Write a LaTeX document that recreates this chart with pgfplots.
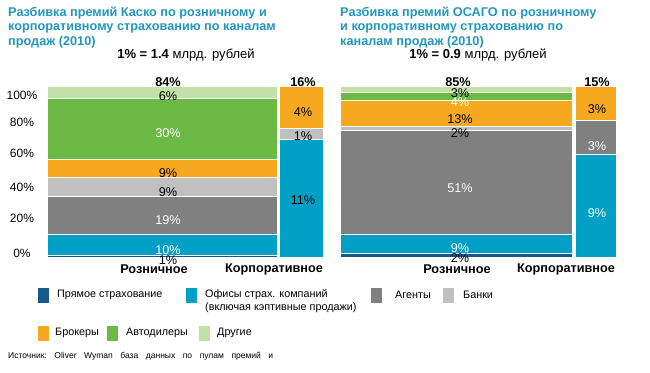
\documentclass[border=0pt]{standalone}
\usepackage{pgfplots}
\pgfplotsset{compat=1.18}
\usepackage{fontspec}
\setmainfont{Liberation Sans}
\definecolor{cDirect}{RGB}{22,90,140}
\definecolor{cOffice}{RGB}{0,160,198}
\definecolor{cAgent}{RGB}{128,128,128}
\definecolor{cBank}{RGB}{192,192,192}
\definecolor{cBroker}{RGB}{246,168,30}
\definecolor{cDealer}{RGB}{109,185,69}
\definecolor{cOther}{RGB}{196,224,170}
\definecolor{cTitle}{RGB}{35,150,190}
\newcommand\fa{\fontsize{12bp}{14bp}\selectfont}
\newcommand\fv{\fontsize{12.7bp}{14bp}\selectfont}
\newcommand\ft{\fontsize{12.7bp}{14.3bp}\selectfont}
\newcommand\fs{\fontsize{13bp}{14.5bp}\selectfont}
\newcommand\fl{\fontsize{10.8bp}{13bp}\selectfont}
\pgfplotsset{mk/.style={scale only axis, width=276bp, height=171bp,
  xmin=0, xmax=100.8, ymin=0, enlargelimits=false, ybar stacked,
  axis line style={draw=none}, major tick length=0pt, xtick=\empty, ytick=\empty,
  anchor=south west, clip=false,
  every axis plot/.append style={draw=white, line width=0.7pt}}}
\begin{document}
\begin{tikzpicture}
\path[use as bounding box] (0,0) rectangle (650bp,373bp);
% ---------- left chart: Kasko, retail
\begin{axis}[mk, at={(47bp,116bp)}, ymax=84,
  ytick={1.96,19.2,34.4,51.1,66.3,79.6},
  yticklabels={0\%,20\%,40\%,60\%,80\%,100\%},
  yticklabel style={font=\fa, anchor=center, xshift=-25bp}]
\addplot[fill=cDirect, bar width=84] coordinates {(42,1)};
\addplot[fill=cOffice, bar width=84] coordinates {(42,10)};
\addplot[fill=cAgent,  bar width=84] coordinates {(42,19)};
\addplot[fill=cBank,   bar width=84] coordinates {(42,9)};
\addplot[fill=cBroker, bar width=84] coordinates {(42,9)};
\addplot[fill=cDealer, bar width=84] coordinates {(42,30)};
\addplot[fill=cOther,  bar width=84] coordinates {(42,6)};
\end{axis}
% ---------- left chart: Kasko, corporate
\begin{axis}[mk, at={(47bp,116bp)}, ymax=16]
\addplot[fill=cOffice, bar width=16] coordinates {(92.8,11)};
\addplot[fill=cBank,   bar width=16] coordinates {(92.8,1)};
\addplot[fill=cBroker, bar width=16] coordinates {(92.8,4)};
\end{axis}
% ---------- right chart: OSAGO, retail
\begin{axis}[mk, at={(340bp,116bp)}, ymax=84]
\addplot[fill=cDirect, bar width=85] coordinates {(42.5,2)};
\addplot[fill=cOffice, bar width=85] coordinates {(42.5,9)};
\addplot[fill=cAgent,  bar width=85] coordinates {(42.5,51)};
\addplot[fill=cBank,   bar width=85] coordinates {(42.5,2)};
\addplot[fill=cBroker, bar width=85] coordinates {(42.5,13)};
\addplot[fill=cDealer, bar width=85] coordinates {(42.5,4)};
\addplot[fill=cOther,  bar width=85] coordinates {(42.5,3)};
\end{axis}
% ---------- right chart: OSAGO, corporate
\begin{axis}[mk, at={(340bp,116bp)}, ymax=15]
\addplot[fill=cOffice, bar width=15] coordinates {(93.3,9)};
\addplot[fill=cAgent,  bar width=15] coordinates {(93.3,3)};
\addplot[fill=cBroker, bar width=15] coordinates {(93.3,3)};
\end{axis}
% ---------- titles
\node[anchor=north west, inner sep=0, align=left, text=cTitle, font=\ft\bfseries] at (8bp,366bp)
 {Разбивка премий Каско по розничному и\\корпоративному страхованию по каналам\\продаж (2010)};
\node[anchor=north west, inner sep=0, align=left, text=cTitle, font=\ft\bfseries] at (340bp,366bp)
 {Разбивка премий ОСАГО по розничному\\и корпоративному страхованию по\\каналам продаж (2010)};
\node[font=\fs, inner sep=0] at (186bp,318bp) {\textbf{1\% = 1.4} млрд. рублей};
\node[font=\fs, inner sep=0] at (478bp,318bp) {\textbf{1\% = 0.9} млрд. рублей};
% ---------- value labels, left
\begin{scope}[every node/.style={font=\fv, inner sep=0}]
\node[font=\fv\bfseries] at (168bp,291bp) {84\%};
\node at (168bp,277bp) {6\%};
\node[text=white] at (168bp,240bp) {30\%};
\node at (168bp,200bp) {9\%};
\node at (168bp,181bp) {9\%};
\node[text=white] at (168bp,153bp) {19\%};
\node[text=white] at (168bp,123bp) {10\%};
\node at (168bp,113bp) {1\%};
\node[font=\fv\bfseries] at (303bp,291bp) {16\%};
\node at (303bp,261bp) {4\%};
\node at (303bp,237bp) {1\%};
\node at (303bp,173bp) {11\%};
% ---------- value labels, right
\node[font=\fv\bfseries] at (458bp,291bp) {85\%};
\node at (460bp,280bp) {3\%};
\node[text=white] at (460bp,271bp) {4\%};
\node at (460bp,254bp) {13\%};
\node at (460bp,240bp) {2\%};
\node[text=white] at (460bp,185bp) {51\%};
\node[text=white] at (460bp,125bp) {9\%};
\node at (460bp,115bp) {2\%};
\node[font=\fv\bfseries] at (597bp,291bp) {15\%};
\node at (597bp,264bp) {3\%};
\node[text=white] at (597bp,227bp) {3\%};
\node[text=white] at (597bp,160bp) {9\%};
% ---------- category labels
\node[font=\fv\bfseries] at (154bp,104bp) {Розничное};
\node[font=\fv\bfseries] at (274bp,104bp) {Корпоративное};
\node[font=\fv\bfseries] at (457bp,104bp) {Розничное};
\node[font=\fv\bfseries] at (566bp,104bp) {Корпоративное};
\end{scope}
% ---------- legend
\begin{scope}[every node/.style={font=\fl, inner sep=0, anchor=west}]
\fill[cDirect] (38bp,70bp) rectangle (49bp,85bp);
\node at (57bp,78bp) {Прямое страхование};
\fill[cOffice] (186bp,70bp) rectangle (197bp,85bp);
\node[align=left, anchor=north west] at (205bp,84bp) {Офисы страх. компаний\\(включая кэптивные продажи)};
\fill[cAgent] (371bp,70bp) rectangle (382bp,85bp);
\node at (395bp,78bp) {Агенты};
\fill[cBank] (443bp,70bp) rectangle (454bp,85bp);
\node at (463bp,78bp) {Банки};
\fill[cBroker] (38bp,32bp) rectangle (49bp,47bp);
\node at (55bp,40bp) {Брокеры};
\fill[cDealer] (107bp,32bp) rectangle (118bp,47bp);
\node at (126bp,40bp) {Автодилеры};
\fill[cOther] (199bp,32bp) rectangle (210bp,47bp);
\node at (217bp,40bp) {Другие};
\end{scope}
\node[anchor=west, inner sep=0, font=\fontsize{8.5bp}{10bp}\selectfont] at (8bp,17bp)
 {\hbox to 265bp{Источник:\hfill Oliver\hfill Wyman\hfill база\hfill данных\hfill по\hfill пулам\hfill премий\hfill и}};
\end{tikzpicture}
\end{document}
